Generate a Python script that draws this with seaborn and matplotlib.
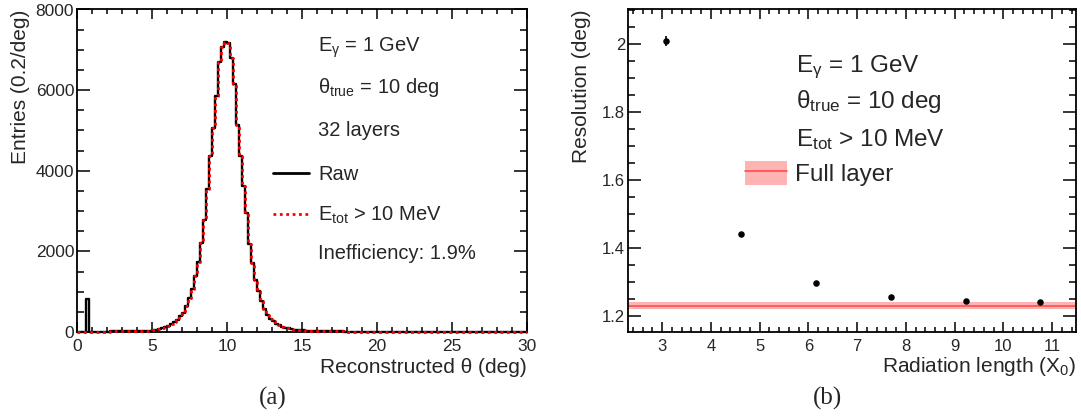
import numpy as np
import pandas as pd
import seaborn as sns
import matplotlib.pyplot as plt
from matplotlib.ticker import MultipleLocator, FormatStrFormatter
from matplotlib.lines import Line2D
from matplotlib.patches import Patch

# ---- data: (a) reconstructed theta histogram, 0.2 deg bins from 0 to 30 ----
bin_width = 0.2
cut_counts = [
    3, 5, 6, 7, 8, 9, 10, 10, 11, 12,                 # 0 - 2
    12, 13, 14, 15, 16, 17, 18, 19, 21, 23,           # 2 - 4
    25, 27, 30, 33, 37, 50, 60, 75, 92, 115,          # 4 - 6
    140, 190, 250, 310, 390, 470, 652, 842, 1065, 1379,   # 6 - 8
    1734, 2204, 2782, 3558, 4367, 5069, 5862, 6687, 7075, 7200,  # 8 - 10
    7158, 6786, 6142, 5135, 4367, 3624, 2964, 2180, 1709, 1296,  # 10 - 12
    1007, 760, 570, 430, 330, 264, 206, 165, 132, 107,  # 12 - 14
    90, 74, 62, 54, 47, 41, 37, 33, 30, 27,           # 14 - 16
    25, 23, 21, 19, 17, 16, 15, 14, 13, 12,           # 16 - 18
    11, 10, 9, 9, 8, 8, 7, 7, 6, 6,                   # 18 - 20
    5, 5, 5, 4, 4, 4, 4, 3, 3, 3,                     # 20 - 22
    3, 3, 3, 2, 2, 2, 2, 2, 2, 2,                     # 22 - 24
    2, 2, 1, 1, 1, 1, 1, 1, 1, 1,                     # 24 - 26
    1, 1, 1, 1, 1, 1, 1, 0, 0, 0,                     # 26 - 28
    0, 0, 0, 0, 0, 0, 0, 0, 0, 0,                     # 28 - 30
]
# events failing the E_tot cut all sit in one low-angle bin of the raw histogram
spike_bin = 3
spike_count = 810

# ---- data: (b) resolution vs radiation length ----
rad_length = [3.08, 4.62, 6.15, 7.69, 9.23, 10.75]
resolution = [2.009, 1.441, 1.296, 1.257, 1.245, 1.241]
res_err = [0.015, 0.006, 0.004, 0.003, 0.003, 0.003]
full_layer = 1.230
full_layer_err = 0.0105

centers = (np.arange(len(cut_counts)) + 0.5) * bin_width
raw_counts = list(cut_counts)
raw_counts[spike_bin] += spike_count
hist_df = pd.DataFrame({"theta": centers, "raw": raw_counts, "cut": cut_counts})
res_df = pd.DataFrame({"x": rad_length, "res": resolution, "err": res_err})

sns.set_style("ticks")
plt.rcParams["font.family"] = ["Liberation Sans", "DejaVu Sans"]
plt.rcParams["mathtext.fontset"] = "custom"
plt.rcParams["mathtext.rm"] = "Liberation Sans"
plt.rcParams["mathtext.it"] = "Liberation Sans"
plt.rcParams["axes.linewidth"] = 1.3

fig = plt.figure(figsize=(10.81, 4.19), dpi=100)
ax1 = fig.add_axes([77 / 1081, 87 / 419, 450 / 1081, 322.5 / 419])
ax2 = fig.add_axes([628 / 1081, 87 / 419, 448 / 1081, 322.5 / 419])

def root_ticks(ax, xmaj, xmin, ymaj, ymin):
    ax.xaxis.set_major_locator(MultipleLocator(xmaj))
    ax.xaxis.set_minor_locator(MultipleLocator(xmin))
    ax.yaxis.set_major_locator(MultipleLocator(ymaj))
    ax.yaxis.set_minor_locator(MultipleLocator(ymin))
    ax.tick_params(which="both", direction="in", top=True, right=True,
                   color="black", labelsize=12.5, width=1.1)
    ax.tick_params(axis="x", which="major", length=7.5, pad=5)
    ax.tick_params(axis="x", which="minor", length=3.8)
    ax.tick_params(axis="y", which="major", length=9.5, pad=2)
    ax.tick_params(axis="y", which="minor", length=5)
    for s in ax.spines.values():
        s.set_color("black")

# ---- (a) ----
sns.histplot(data=hist_df, x="theta", weights="raw", binwidth=bin_width,
             binrange=(0, 30), element="step", fill=False, color="black",
             linewidth=1.7, zorder=3, clip_on=False, ax=ax1)
sns.histplot(data=hist_df, x="theta", weights="cut", binwidth=bin_width,
             binrange=(0, 30), element="step", fill=False, color="red",
             linewidth=2, linestyle=(0, (1, 1.3)), zorder=4, clip_on=False, ax=ax1)
ax1.set_xlim(0, 30)
ax1.set_ylim(0, 8000)
root_ticks(ax1, 5, 1, 2000, 500)
ax1.set_xlabel("Reconstructed θ (deg)", fontsize=15, loc="right", labelpad=3)
ax1.set_ylabel("Entries (0.2/deg)", fontsize=15, loc="top", labelpad=4)

tkw = dict(fontsize=14.5, va="center", ha="left", transform=ax1.transData)
ax1.text(16.07, 7047, "E$_{\\mathrm{γ}}$ = 1 GeV", **tkw)
ax1.text(16.07, 6054, "θ$_{\\mathrm{true}}$ = 10 deg", **tkw)
ax1.text(16.07, 4993, "32 layers", **tkw)
ax1.text(16.07, 1955, "Inefficiency: 1.9%", **tkw)
leg1 = ax1.legend(
    handles=[Line2D([], [], color="black", lw=2),
             Line2D([], [], color="red", lw=2, linestyle=(0, (1, 1.3)))],
    labels=["Raw", "E$_{\\mathrm{tot}}$ > 10 MeV"],
    loc="upper left", bbox_to_anchor=(0.4356, 0.519), frameon=False,
    fontsize=14.5, handlelength=1.8, handletextpad=0.45, labelspacing=1.05,
    borderaxespad=0, borderpad=0)

# ---- (b) ----
ax2.axhspan(full_layer - full_layer_err, full_layer + full_layer_err,
            facecolor="#ffb3b3", edgecolor="none", zorder=1)
ax2.axhline(full_layer, color="#ff4d4d", lw=1.2, zorder=2)
ax2.errorbar(res_df["x"], res_df["res"], yerr=res_df["err"], fmt="none",
             ecolor="black", elinewidth=1.2, capsize=0, zorder=3)
sns.scatterplot(data=res_df, x="x", y="res", color="black", s=22,
                edgecolor="black", linewidth=0, zorder=4, ax=ax2)
ax2.set_xlim(2.30, 11.49)
ax2.set_ylim(1.153, 2.101)
root_ticks(ax2, 1, 0.2, 0.2, 0.05)
ax2.tick_params(labelsize=12)
ax2.yaxis.set_major_formatter(FormatStrFormatter("%g"))
ax2.set_xlabel("Radiation length (X$_{\\mathrm{0}}$)", fontsize=15, loc="right", labelpad=1)
ax2.set_ylabel("Resolution (deg)", fontsize=15, loc="top", labelpad=8)

tkw2 = dict(fontsize=17.5, va="center", ha="left", transform=ax2.transData)
ax2.text(5.74, 1.930, "E$_{\\mathrm{γ}}$ = 1 GeV", **tkw2)
ax2.text(5.74, 1.830, "θ$_{\\mathrm{true}}$ = 10 deg", **tkw2)
ax2.text(5.74, 1.720, "E$_{\\mathrm{tot}}$ > 10 MeV", **tkw2)
band_handle = (Patch(facecolor="#ffb3b3", edgecolor="none"),
               Line2D([], [], color="#ff4d4d", lw=1.2))
ax2.legend(handles=[band_handle], labels=["Full layer"], loc="center left",
           bbox_to_anchor=(0.261, 0.491), frameon=False, fontsize=17.5,
           handlelength=1.75, handleheight=1.15, handletextpad=0.33,
           borderaxespad=0, borderpad=0)

fig.text(273 / 1081, 1 - 398 / 419, "(a)", fontsize=18, family="Liberation Serif",
         ha="center", va="center")
fig.text(827 / 1081, 1 - 398 / 419, "(b)", fontsize=18, family="Liberation Serif",
         ha="center", va="center")

fig.savefig("out.png", dpi=100)
